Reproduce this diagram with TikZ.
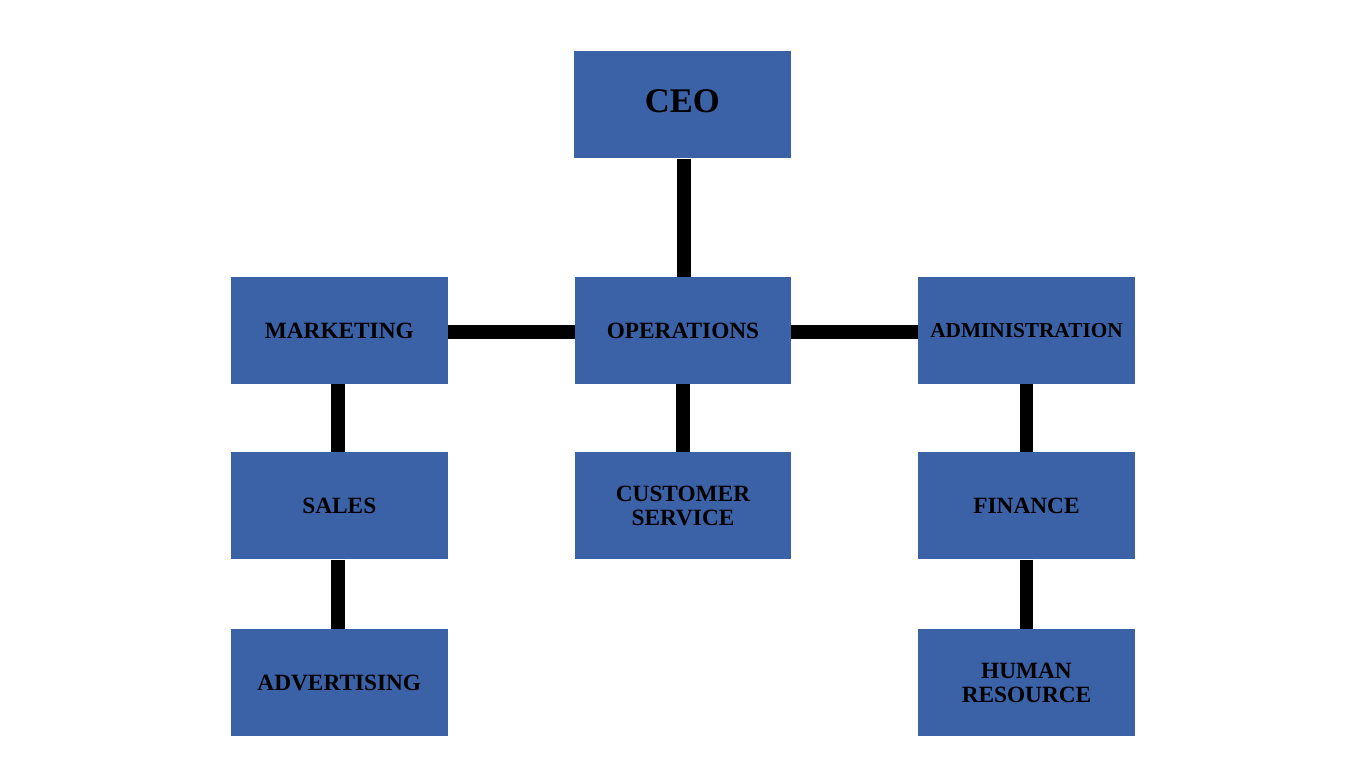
\documentclass[tikz,border=0pt]{standalone}
\usepackage{fontspec}
\setmainfont{Liberation Serif}
\definecolor{boxblue}{RGB}{59,97,166}
\begin{document}
\begin{tikzpicture}[x=1pt,y=1pt,
  orgbox/.style={fill=boxblue, draw=none, minimum width=216.5pt, minimum height=107pt,
    inner sep=0pt, align=center, font=\fontsize{23.3}{24}\selectfont\bfseries, text=black},
  link/.style={line width=13.8pt, draw=black}]
\useasboundingbox (0,0) rectangle (1366,768);
\node[orgbox] (ceo) at (682.3,663) {};
\node[font=\fontsize{34.6}{36}\selectfont\bfseries, inner sep=0pt] (ceotext) at (682.3,667) {CEO};
\node[orgbox] (mkt) at (339.3,437.5) {MARKETING};
\node[orgbox] (ops) at (683,437.5) {OPERATIONS};
\node[orgbox, font=\fontsize{21.3}{23}\selectfont\bfseries] (adm) at (1026.5,437.5) {ADMINISTRATION};
\node[orgbox] (sales) at (339.3,262) {SALES};
\node[orgbox] (cs) at (683,262) {CUSTOMER\\SERVICE};
\node[orgbox] (fin) at (1026.5,262) {FINANCE};
\node[orgbox] (adv) at (339.3,85.5) {ADVERTISING};
\node[orgbox] (hr) at (1026.5,85.5) {HUMAN\\RESOURCE};
\draw[link] ([xshift=1.5pt]ceo.south) -- ([xshift=1.5pt]ceo.south |- ops.north);
\draw[link] ([yshift=-1.5pt]mkt.east) -- ([yshift=-1.5pt]ops.west);
\draw[link] ([yshift=-1.5pt]ops.east) -- ([yshift=-1.5pt]adm.west);
\draw[link] ([xshift=-1pt]mkt.south) -- ([xshift=-1pt]sales.north);
\draw[link] ([xshift=-1pt]sales.south) -- ([xshift=-1pt]adv.north);
\draw[link] (ops.south) -- (cs.north);
\draw[link] (adm.south) -- (fin.north);
\draw[link] (fin.south) -- (hr.north);
\end{tikzpicture}
\end{document}
